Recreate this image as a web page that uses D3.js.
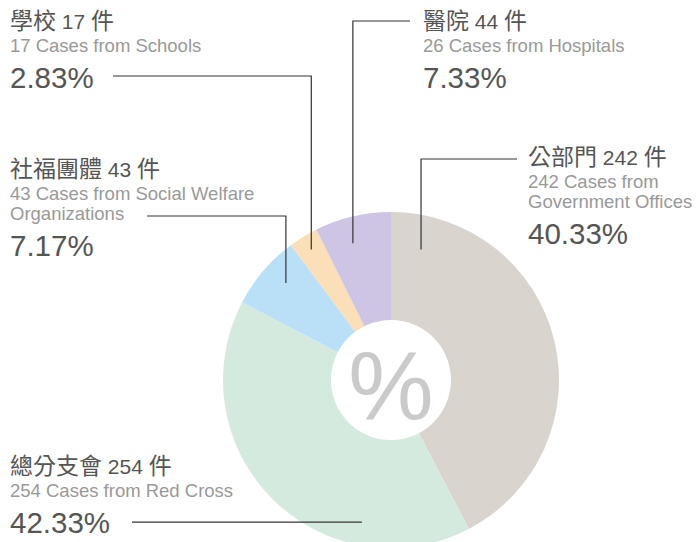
<!DOCTYPE html>
<html>
<head>
<meta charset="utf-8">
<script src="https://cdn.jsdelivr.net/npm/d3@7/dist/d3.min.js"></script>
<style>
    body { margin: 0; background: #fff; }
    text { font-family: "Liberation Sans", Arial, "Noto Sans CJK TC", sans-serif; }
</style>
</head>
<body>
<div id="chart"></div>
<script>
// slices as drawn, clockwise from 12 o'clock
const sliceKeys = ["gov", "redcross", "welfare", "school", "hospital"];
const sliceValues = [254, 242, 43, 17, 44];

// label texts, same order as the slices
const labelTitles = ["公部門 242 件", "總分支會 254 件", "社福團體 43 件", "學校 17 件", "醫院 44 件"];
const labelSubtitles = [
    ["242 Cases from", "Government Offices"],
    ["254 Cases from Red Cross"],
    ["43 Cases from Social Welfare", "Organizations"],
    ["17 Cases from Schools"],
    ["26 Cases from Hospitals"]
];
const labelPercents = ["40.33%", "42.33%", "7.17%", "2.83%", "7.33%"];

const width = 699, height = 542;
const cx = 391, cy = 380, outerR = 168, innerR = 60;

let color = d3.scaleOrdinal()
    .domain(sliceKeys)
    .range(["#d9d5ce", "#d5eadf", "#b9e0f7", "#fadfb8", "#cdc5e3"]);

// where each label sits and where its leader line touches the slice
// t = fraction along the slice angle, r = radius of the line end
const layout = {
    gov:      {x: 528, y: 165, lineY: 159,  lineX: 517, t: 0.085, r: 134},
    redcross: {x: 10,  y: 474, lineY: null, lineX: 132, t: 0.27,  r: 145},
    welfare:  {x: 10,  y: 177, lineY: 216,  lineX: 147, t: 0.585, r: 143},
    school:   {x: 10,  y: 29,  lineY: 76,   lineX: 113, t: 0.51,  r: 153},
    hospital: {x: 423, y: 29,  lineY: 21,   lineX: 410, t: 0.41,  r: 142}
};

let data = sliceKeys.map((k, i) => ({
    key: k,
    value: sliceValues[i],
    title: labelTitles[i],
    subs: labelSubtitles[i],
    pct: labelPercents[i]
}));

let svg = d3.select("#chart").append("svg")
    .attr("width", width)
    .attr("height", height);

let pie = d3.pie().sort(null).value(d => d.value);
let arcs = pie(data);

let arc = d3.arc().innerRadius(0).outerRadius(outerR);

let g = svg.append("g")
    .attr("transform", `translate(${cx},${cy})`);

g.selectAll("path.slice")
    .data(arcs)
    .enter()
    .append("path")
    .attr("class", "slice")
    .attr("d", arc)
    .attr("fill", d => color(d.data.key));

g.append("circle")
    .attr("r", innerR)
    .attr("fill", "#fff");

g.append("text")
    .attr("x", 0)
    .attr("y", 39)
    .attr("text-anchor", "middle")
    .style("font-size", "96px")
    .style("fill", "#c9cacc")
    .text("%");

// leader lines
arcs.forEach(d => {
    let l = layout[d.data.key];
    let a = d.startAngle + l.t * (d.endAngle - d.startAngle);
    let px = cx + l.r * Math.sin(a);
    let py = cy - l.r * Math.cos(a);
    let ly = l.lineY == null ? py : l.lineY;
    svg.append("path")
        .attr("d", d3.line()([[px, py], [px, ly], [l.lineX, ly]]))
        .attr("fill", "none")
        .attr("stroke", "#333")
        .attr("stroke-width", 1.2);
});

// label blocks
let labels = svg.selectAll("g.label")
    .data(data)
    .enter()
    .append("g")
    .attr("class", "label")
    .attr("transform", d => `translate(${layout[d.key].x},${layout[d.key].y})`);

// title: chinese runs a bit larger than the digits
labels.append("text")
    .style("fill", "#555")
    .each(function(d) {
        let t = d3.select(this);
        let runs = d.title.match(/[\u3400-\u9fff]+|[^\u3400-\u9fff]+/g);
        runs.forEach(r => {
            let cjk = /[\u3400-\u9fff]/.test(r);
            t.append("tspan")
                .style("font-size", cjk ? "23px" : "21px")
                .text(r);
        });
    });

labels.each(function(d) {
    let sel = d3.select(this);
    d.subs.forEach((s, i) => {
        sel.append("text")
            .attr("y", 23 + i * 20)
            .style("font-size", "18.5px")
            .style("fill", "#999")
            .text(s);
    });
    sel.append("text")
        .attr("y", 23 + (d.subs.length - 1) * 20 + 36)
        .style("font-size", "29.5px")
        .style("fill", "#555")
        .text(d.pct);
});
</script>
</body>
</html>
